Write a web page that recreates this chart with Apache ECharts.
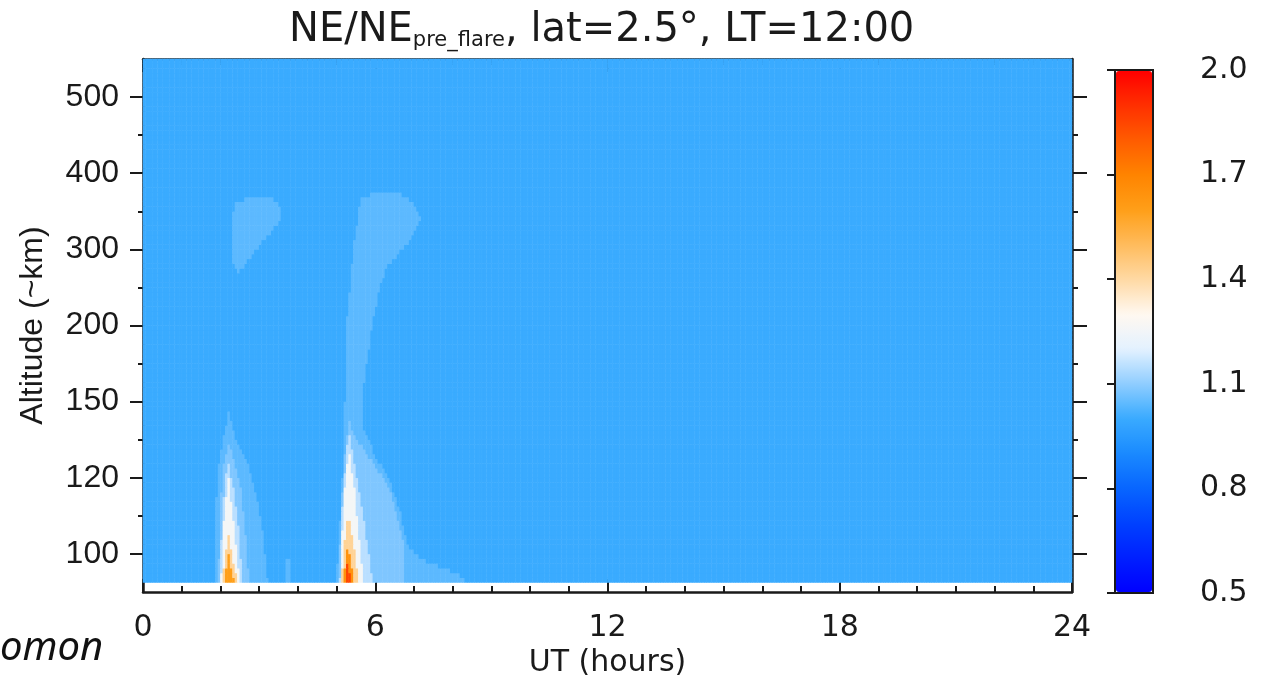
<!DOCTYPE html>
<html>
<head>
<meta charset="utf-8">
<script src="https://cdn.jsdelivr.net/npm/echarts@6/dist/echarts.min.js"></script>
<style>
  html, body { margin: 0; padding: 0; background: #fff; }
  #main { width: 1264px; height: 685px; }
</style>
</head>
<body>
<div id="main"></div>
<script>
// altitude tick labels, one per model level index 0..6
const altLabels = ['100', '120', '150', '200', '300', '400', '500']
const cbarMin = 0.5
const cbarMax = 2.0
const baseRatio = 1.0 // NE/NE_pre_flare away from the flares

// contour regions: [UT hours, altitude level index]
const flare1Outer = [[1.86, -0.375], [1.88, 0.5], [1.95, 1.1], [2.08, 1.55], [2.22, 1.85], [2.35, 1.6], [2.55, 1.35], [2.72, 1.2], [2.84, 0.97], [2.95, 0.7], [3.07, 0.45], [3.15, 0.05], [3.23, -0.375]]
const flare1Mid = [[1.96, -0.375], [1.99, 0.6], [2.1, 1.2], [2.22, 1.47], [2.36, 1.2], [2.52, 0.9], [2.64, 0.4], [2.74, -0.375]]
const flare1Inner = [[2.0, -0.375], [2.05, 0.5], [2.2, 1.25], [2.33, 0.9], [2.48, 0.3], [2.58, -0.375]]
const flare1Core = [[2.02, -0.375], [2.08, 0.4], [2.21, 1.02], [2.33, 0.5], [2.5, -0.375]]
const flare1Warm = [[2.05, -0.375], [2.14, 0.0], [2.22, 0.25], [2.44, -0.375]]
const flare1Peak = [[2.1, -0.375], [2.21, 0.0], [2.36, -0.375]]
const flare1Blob = [[2.33, 3.8], [2.33, 4.5], [2.45, 4.65], [3.35, 4.68], [3.55, 4.55], [3.6, 4.42], [2.45, 3.69]]
const streak = [[3.7, -0.375], [3.72, -0.05], [3.8, -0.05], [3.82, -0.375]]
const flare2Outer = [[5.0, -0.375], [5.1, 0.5], [5.18, 1.2], [5.22, 2.0], [5.25, 3.0], [5.32, 3.3], [5.43, 3.95], [5.55, 4.4], [5.62, 4.65], [5.85, 4.72], [6.7, 4.72], [7.0, 4.62], [7.2, 4.38], [6.8, 4.05], [6.3, 3.77], [6.12, 3.5], [6.0, 3.2], [5.87, 2.8], [5.75, 2.4], [5.68, 2.0], [5.68, 1.7], [6.0, 1.3], [6.4, 0.95], [6.68, 0.5], [6.82, 0.14], [7.23, -0.08], [7.6, -0.15], [8.1, -0.25], [8.4, -0.375]]
const flare2Mid = [[5.06, -0.375], [5.13, 0.6], [5.21, 1.3], [5.33, 1.78], [5.5, 1.5], [5.68, 1.4], [6.0, 1.15], [6.38, 0.88], [6.6, 0.4], [6.72, 0.18], [6.78, -0.375]]
const flare2Inner = [[5.09, -0.375], [5.17, 0.8], [5.32, 1.62], [5.47, 1.2], [5.7, 0.5], [5.95, -0.375]]
const flare2Core = [[5.1, -0.375], [5.2, 0.8], [5.32, 1.4], [5.46, 0.9], [5.7, -0.375]]
const flare2Warm = [[5.13, -0.375], [5.22, 0.2], [5.31, 0.52], [5.45, 0.1], [5.58, -0.375]]
const flare2Peak = [[5.17, -0.375], [5.3, 0.12], [5.48, -0.375]]
const flare2Max = [[5.21, -0.375], [5.29, -0.12], [5.4, -0.375]]

// later regions sit on top of earlier ones
const regions = [
  { value: 1.04, path: flare1Outer },
  { value: 1.08, path: flare1Mid },
  { value: 1.15, path: flare1Inner },
  { value: 1.26, path: flare1Core },
  { value: 1.42, path: flare1Warm },
  { value: 1.6, path: flare1Peak },
  { value: 1.04, path: flare1Blob },
  { value: 1.04, path: streak },
  { value: 1.04, path: flare2Outer },
  { value: 1.08, path: flare2Mid },
  { value: 1.15, path: flare2Inner },
  { value: 1.26, path: flare2Core },
  { value: 1.42, path: flare2Warm },
  { value: 1.65, path: flare2Peak },
  { value: 1.85, path: flare2Max }
]

const cmap = ['#0000ff', '#0020ff', '#0042ff', '#0866ff', '#1a8aff', '#3aabff', '#90cdff', '#e4f2ff',
  '#fff8f0', '#ffd9a4', '#ffbb5c', '#ff9f18', '#ff8400', '#ff5c00', '#ff3000', '#ff0000']

const utStep = 1 / 16
const levelStep = 1 / 16
const levelBottom = -0.5
const fillBottom = -0.375 // lowest model level, white strip below it

function inside(pt, poly) {
  let c = false
  for (let i = 0, j = poly.length - 1; i < poly.length; j = i++) {
    const [xi, yi] = poly[i]
    const [xj, yj] = poly[j]
    if ((yi > pt[1]) !== (yj > pt[1]) && pt[0] < (xj - xi) * (pt[1] - yi) / (yj - yi) + xi) c = !c
  }
  return c
}

const utCats = []
for (let i = 0; i < 24 / utStep; i++) utCats.push(((i + 0.5) * utStep).toFixed(4))
const levelCats = []
for (let j = 0; j < 7 / levelStep; j++) levelCats.push((levelBottom + (j + 0.5) * levelStep).toFixed(4))

const cells = []
levelCats.forEach((ly, j) => {
  const y = +ly
  if (y < fillBottom) return
  utCats.forEach((ux, i) => {
    const x = +ux
    let v = baseRatio
    regions.forEach(r => { if (inside([x, y], r.path)) v = r.value })
    cells.push([i, j, v])
  })
})

const ink = '#1a1a1a'
const idlFont = 'DejaVu Sans'
const lineStyle = { color: ink, width: 2.5 }
const tickStyle = { color: ink, width: 2 }
const majorLevels = [0, 1, 2, 3, 4, 5, 6]
const minorLevels = [0.5, 1.5, 2.5, 3.5, 4.5, 5.5]

function utAxis(position, showLabel) {
  return {
    type: 'value',
    gridIndex: 0,
    position,
    min: 0,
    max: 24,
    interval: 6,
    axisLine: { onZero: false, lineStyle },
    axisTick: { inside: true, length: 13, lineStyle: tickStyle },
    minorTick: { show: true, splitNumber: 6, length: 6, lineStyle: tickStyle },
    splitLine: { show: false },
    axisLabel: { show: showLabel, margin: 21, fontFamily: idlFont, fontSize: 30, color: ink }
  }
}

function levelAxis(position, ticks, len, major) {
  return {
    type: 'value',
    gridIndex: 0,
    position,
    min: -0.5,
    max: 6.5,
    axisLine: { show: major, onZero: false, lineStyle },
    axisTick: { inside: false, length: len, lineStyle: tickStyle, customValues: ticks },
    splitLine: { show: false },
    axisLabel: { show: false }
  }
}

const leftAxis = levelAxis('left', majorLevels, 13, true)
leftAxis.axisLabel = {
  show: true,
  customValues: majorLevels,
  formatter: v => altLabels[Math.round(v)],
  margin: 24,
  fontFamily: 'Liberation Sans',
  fontSize: 32,
  color: ink
}
leftAxis.name = 'Altitude (~km)'
leftAxis.nameLocation = 'middle'
leftAxis.nameGap = 94
leftAxis.nameTextStyle = { fontFamily: 'Liberation Sans', fontSize: 32, color: ink }

const bottomAxis = utAxis('bottom', true)
bottomAxis.name = 'UT (hours)'
bottomAxis.nameLocation = 'middle'
bottomAxis.nameGap = 55
bottomAxis.nameTextStyle = { fontFamily: idlFont, fontSize: 30, color: ink }

const chart = echarts.init(document.getElementById('main'))
chart.setOption({
  animation: false,
  backgroundColor: '#fff',
  title: {
    text: '{a|NE/NE}{s|pre_flare}{a|, lat=2.5°, LT=12:00}',
    left: 284,
    top: 0,
    textStyle: {
      fontWeight: 'normal',
      rich: {
        a: { fontFamily: idlFont, fontSize: 40, fontWeight: 'normal', color: ink, verticalAlign: 'bottom', lineHeight: 46 },
        s: { fontFamily: idlFont, fontSize: 21, fontWeight: 'normal', color: ink, verticalAlign: 'bottom', lineHeight: 33 }
      }
    }
  },
  grid: [
    { left: 143, top: 59, width: 929, height: 533 },
    { left: 1115, top: 70, width: 38, height: 523, show: true, borderColor: ink, borderWidth: 2, backgroundColor: 'transparent' }
  ],
  xAxis: [
    { type: 'category', gridIndex: 0, data: utCats, show: false },
    bottomAxis,
    utAxis('top', false),
    { type: 'value', gridIndex: 1, min: 0, max: 1, show: false }
  ],
  yAxis: [
    { type: 'category', gridIndex: 0, data: levelCats, show: false },
    leftAxis,
    levelAxis('left', minorLevels, 5, false),
    levelAxis('right', majorLevels, 15, true),
    levelAxis('right', minorLevels, 6, false),
    {
      type: 'value',
      gridIndex: 1,
      position: 'right',
      min: cbarMin,
      max: cbarMax,
      interval: 0.3,
      z: 10,
      axisLine: { show: false },
      axisTick: { inside: true, length: 8, lineStyle: tickStyle },
      splitLine: { show: false },
      axisLabel: { margin: 47, fontFamily: idlFont, fontSize: 30, color: ink, formatter: v => v.toFixed(1) }
    }
  ],
  visualMap: {
    type: 'continuous',
    seriesIndex: 0,
    dimension: 2,
    min: cbarMin,
    max: cbarMax,
    calculable: false,
    hoverLink: false,
    left: 1116,
    top: 71,
    padding: 0,
    itemWidth: 36,
    itemHeight: 521,
    inRange: { color: cmap }
  },
  series: [{
    type: 'heatmap',
    xAxisIndex: 0,
    yAxisIndex: 0,
    data: cells,
    progressive: 0,
    emphasis: { disabled: true }
  }],
  graphic: [{
    type: 'text',
    left: 0,
    top: 629,
    style: { text: 'omon', font: 'italic 40px "Noto Sans"', fill: '#111' }
  }]
})
</script>
</body>
</html>
